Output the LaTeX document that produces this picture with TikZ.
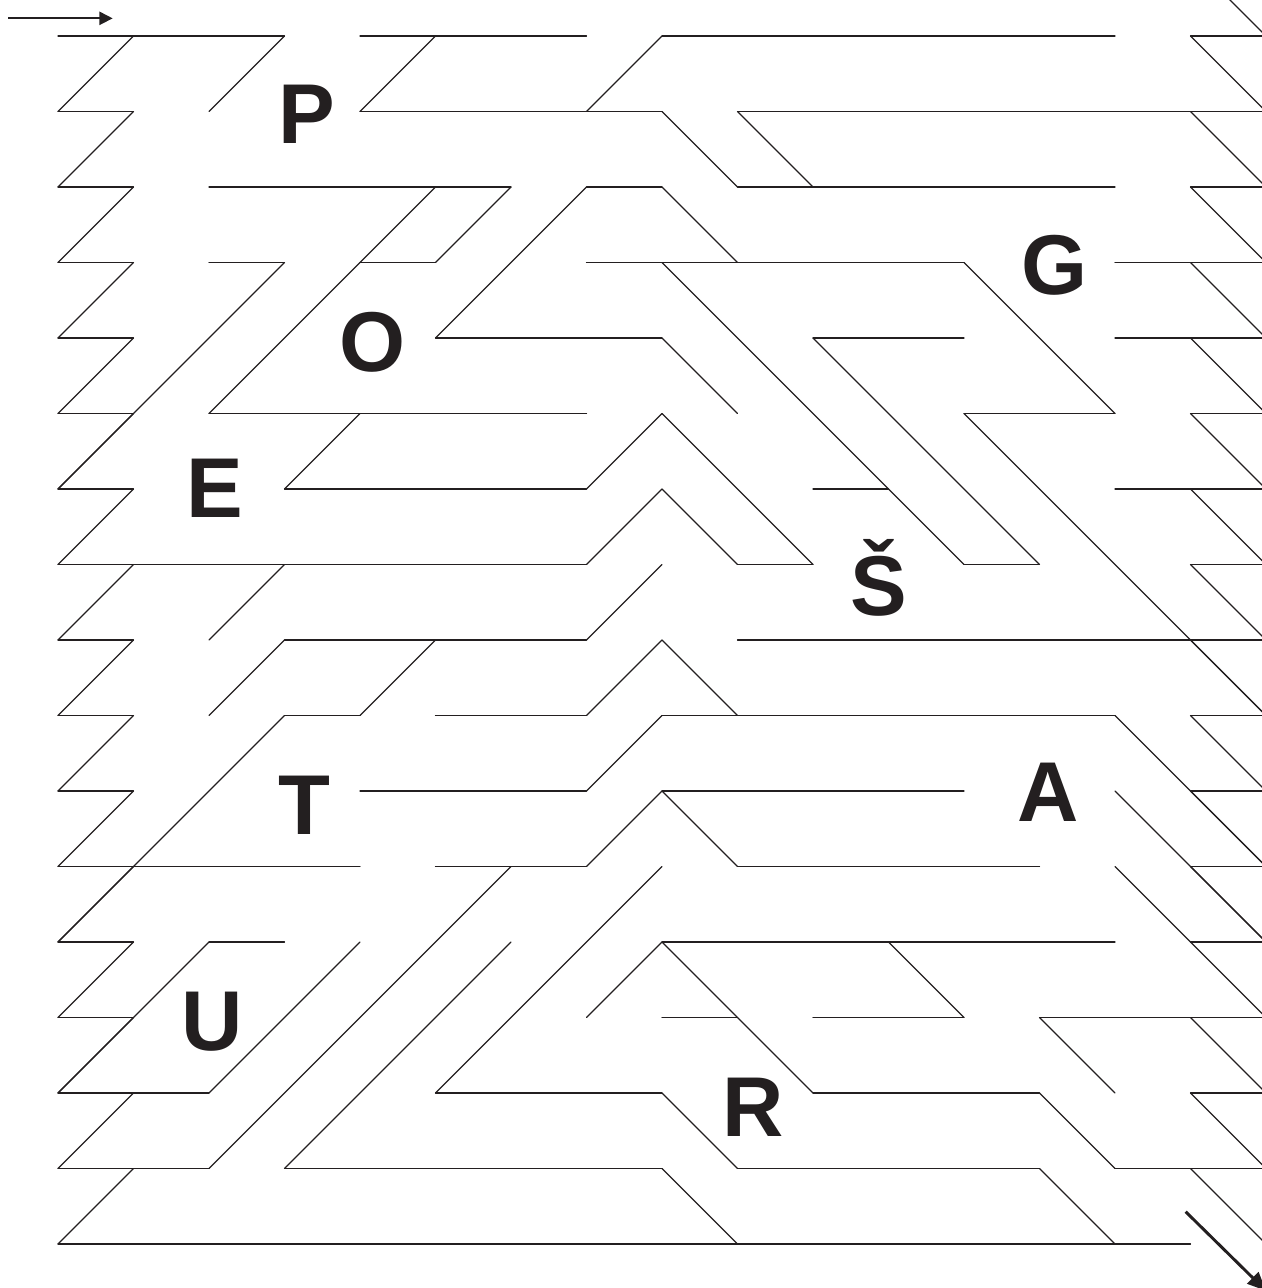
\documentclass[tikz,border=0pt]{standalone}
\usepackage{fontspec}
\setmainfont{Liberation Sans}
\usetikzlibrary{arrows.meta}
\definecolor{mazeink}{HTML}{231F20}

\begin{document}
\begin{tikzpicture}[x=1cm, y=-1cm,
    wall/.style={draw=mazeink, line width=0.45pt, line cap=round},
    letter/.style={font=\fontsize{32}{32}\selectfont\bfseries, text=mazeink, inner sep=0pt, anchor=base},
    way/.style={draw=mazeink, line width=0.65pt, -{Triangle[length=5pt,width=5pt]}}]

\useasboundingbox (-0.768,-0.477) rectangle (15.947,16.583);
\clip (-0.768,-0.477) rectangle (15.947,16.583);

% left zigzag
\foreach \j in {0,...,15}{
    \draw[wall] (1,\j) -- (0,\j+1);
}

% right zigzag
\foreach \j in {-1,...,15}{
    \draw[wall] (15,\j) -- (16,\j+1);
}

% horizontal walls: row / from / to
\foreach \j/\a/\b in {0/0/3, 0/4/7, 0/8/14, 0/15/16,
    1/0/1, 1/4/8, 1/9/16,
    2/0/1, 2/2/6, 2/7/8, 2/9/14, 2/15/16,
    3/0/1, 3/2/3, 3/4/5, 3/7/12, 3/14/16,
    4/0/1, 4/5/8, 4/10/12, 4/14/16,
    5/0/1, 5/2/7, 5/12/14, 5/15/16,
    6/0/1, 6/3/7, 6/10/11, 6/14/16,
    7/0/7, 7/9/10, 7/12/13, 7/15/16,
    8/0/1, 8/3/7, 8/9/16,
    9/0/1, 9/3/4, 9/5/7, 9/8/14, 9/15/16,
    10/0/1, 10/4/7, 10/8/12, 10/15/16,
    11/0/4, 11/5/7, 11/9/13, 11/15/16,
    12/0/1, 12/2/3, 12/8/14, 12/15/16,
    13/0/1, 13/8/9, 13/10/12, 13/13/16,
    14/0/2, 14/5/8, 14/10/13, 14/15/16,
    15/0/2, 15/3/8, 15/9/13, 15/14/16,
    16/0/15}{
    \draw[wall] (\a,\j) -- (\b,\j);
}

% slanted walls
\foreach \a/\b/\c/\d in {5/0/4/1, 3/0/2/1, 8/0/7/1,
    8/1/9/2, 9/1/10/2,
    5/2/2/5, 6/2/5/3, 7/2/5/4, 8/2/9/3,
    3/3/0/6, 8/3/12/7, 12/3/14/5,
    8/4/9/5, 10/4/13/7,
    4/5/3/6, 8/5/10/7, 8/5/7/6, 12/5/16/9,
    8/6/7/7, 8/6/9/7,
    3/7/2/8, 8/7/7/8,
    3/8/2/9, 5/8/4/9, 8/8/7/9, 8/8/9/9,
    3/9/0/12, 8/9/7/10, 14/9/16/11,
    8/10/7/11, 8/10/9/11, 14/10/16/12,
    6/11/2/15, 8/11/5/14, 14/11/15/12,
    2/12/0/14, 4/12/2/14, 6/12/3/15, 8/12/7/13, 8/12/10/14, 11/12/12/13,
    13/13/14/14,
    8/14/9/15, 13/14/14/15,
    8/15/9/16, 13/15/14/16}{
    \draw[wall] (\a,\b) -- (\c,\d);
}

% letters
\node[letter] (P) at (3.30,1.42) {P};
\node[letter] (O) at (4.17,4.44) {O};
\node[letter] (G) at (13.20,3.42) {G};
\node[letter] (E) at (2.08,6.38) {E};
\node[letter] (S) at (10.87,7.68) {Š};
\node[letter] (T) at (3.26,10.58) {T};
\node[letter] (A) at (13.11,10.41) {A};
\node[letter] (U) at (2.04,13.44) {U};
\node[letter] (R) at (9.21,14.58) {R};

% way in and way out
\coordinate (entryTail) at (-0.658,-0.234);
\coordinate (entryTip) at (0.724,-0.234);
\coordinate (exitTail) at (14.936,15.572);
\coordinate (exitTip) at (16.0,16.62);
\draw[way] (entryTail) -- (entryTip);
\draw[way, line width=1.1pt, -{Triangle[length=7pt,width=6pt]}] (exitTail) -- (exitTip);

\end{tikzpicture}
\end{document}
